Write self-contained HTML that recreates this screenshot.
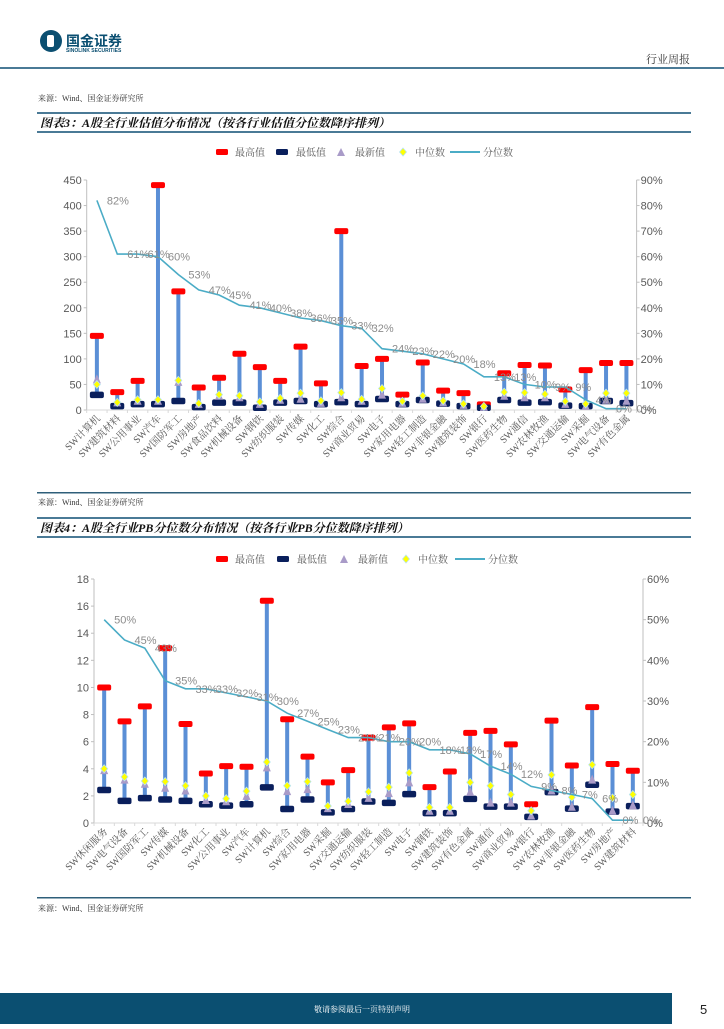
<!DOCTYPE html>
<html><head><meta charset="utf-8">
<style>
html,body{margin:0;padding:0;background:#fff;}
body{width:724px;height:1024px;overflow:hidden;font-family:"Liberation Sans","Noto Sans CJK SC",sans-serif;}
svg text{font-family:"Liberation Sans","Noto Sans CJK SC",sans-serif;}
.cj{font-family:"Liberation Serif","Noto Serif CJK SC",serif;}
</style></head>
<body>
<svg id="pg" width="724" height="1024" viewBox="0 0 724 1024" xmlns="http://www.w3.org/2000/svg">
  <g>
    <circle cx="51" cy="41" r="11" fill="#0b4f71"/>
    <rect x="47" y="35" width="7" height="12" rx="2" fill="#fff"/>
    <text x="66" y="46" font-size="14" font-weight="bold" fill="#0b4f71">国金证券</text>
    <text x="66" y="52" font-size="5" font-weight="bold" fill="#0b4f71">SINOLINK SECURITIES</text>
  </g>
  <text x="690" y="63" font-size="11" fill="#333" text-anchor="end" class="cj">行业周报</text>
  <rect x="0" y="67" width="724" height="2" fill="#4a7a96"/>
  <text x="38" y="101" font-size="8" fill="#333" class="cj">来源：Wind、国金证券研究所</text>
  <rect x="37" y="112" width="654" height="2" fill="#4a7a96"/>
  <rect x="37" y="131" width="654" height="2" fill="#4a7a96"/>
  <text x="40" y="127" font-size="12" font-weight="bold" font-style="italic" fill="#111" class="cj">图表3：A股全行业估值分布情况（按各行业估值分位数降序排列）</text>
  <g id="c1"></g>
  <rect x="37" y="492" width="654" height="1.5" fill="#2f5f7a"/>
  <text x="38" y="505" font-size="8" fill="#333" class="cj">来源：Wind、国金证券研究所</text>
  <rect x="37" y="517" width="654" height="2" fill="#4a7a96"/>
  <rect x="37" y="536" width="654" height="2" fill="#4a7a96"/>
  <text x="40" y="532" font-size="12" font-weight="bold" font-style="italic" fill="#111" class="cj">图表4：A股全行业PB分位数分布情况（按各行业PB分位数降序排列）</text>
  <g id="c2"></g>
  <rect x="37" y="897" width="654" height="1.5" fill="#2f5f7a"/>
  <text x="38" y="911" font-size="8" fill="#333" class="cj">来源：Wind、国金证券研究所</text>
  <rect x="0" y="993" width="724" height="31" fill="#0b4f71"/>
  <rect x="672" y="993" width="52" height="31" fill="#fff"/>
  <text x="362" y="1012" font-size="8" fill="#fff" text-anchor="middle" class="cj">敬请参阅最后一页特别声明</text>
  <text x="700" y="1014" font-size="13" fill="#222">5</text>
</svg>
<script>
// ---- Chart 3 data (PE) ----
const cats1 = ["计算机","建筑材料","公用事业","汽车","国防军工","房地产","食品饮料","机械设备","钢铁","纺织服装","传媒","化工","综合","商业贸易","电子","家用电器","轻工制造","非银金融","建筑装饰","银行","医药生物","通信","农林牧渔","交通运输","采掘","电气设备","有色金属"];
const max1 = [145,35,57,440,232,44,63,110,84,57,124,52,350,86,100,30,93,38,33,11,72,88,87,40,78,92,92];
const min1 = [30,8,12,12,18,6,15,15,5,15,18,12,16,12,22,12,20,13,8,5,20,15,16,9,8,18,14];
const last1 = [60,15,18,18,55,12,28,25,12,20,22,14,25,18,30,14,22,15,10,6,28,25,25,12,8,20,18];
const med1 = [50,15,20,20,58,13,30,28,16,23,33,18,34,21,42,17,28,18,12,7,35,34,31,17,12,33,33];
const pct1 = [82,61,61,60,53,47,45,41,40,38,36,35,33,32,24,23,22,20,18,13,13,10,9,9,4,0.5,0.5];
const pctLbl1 = ["82%","61%","61%","60%","53%","47%","45%","41%","40%","38%","36%","35%","33%","32%","24%","23%","22%","20%","18%","13%","13%","10%","9%","9%","4%","0%","0%"];
const leftTicks1 = ["0","50","100","150","200","250","300","350","400","450"];
const rightTicks1 = ["0%","10%","20%","30%","40%","50%","60%","70%","80%","90%"];

// ---- Chart 4 data (PB) ----
const cats2 = ["休闲服务","电气设备","国防军工","传媒","机械设备","化工","公用事业","汽车","计算机","综合","家用电器","采掘","交通运输","纺织服装","轻工制造","电子","钢铁","建筑装饰","有色金属","通信","商业贸易","银行","农林牧渔","非银金融","医药生物","房地产","建筑材料"];
const max2 = [10,7.5,8.6,12.9,7.3,3.65,4.2,4.15,16.4,7.65,4.9,3.0,3.9,6.3,7.05,7.35,2.65,3.8,6.65,6.8,5.8,1.38,7.55,4.24,8.55,4.35,3.85];
const min2 = [2.45,1.65,1.85,1.75,1.65,1.4,1.3,1.4,2.65,1.05,1.75,0.8,1.05,1.6,1.5,2.15,0.75,0.75,1.8,1.23,1.23,0.47,2.3,1.08,2.84,0.86,1.26];
const last2 = [3.9,3.2,2.9,2.6,2.4,1.7,1.6,2.0,4.1,2.35,2.5,1.1,1.4,1.85,2.2,3.0,0.9,0.9,2.3,1.5,1.5,0.55,2.4,1.2,3.2,0.9,1.3];
const med2 = [4.0,3.4,3.1,3.05,2.75,2.0,1.8,2.35,4.5,2.75,3.05,1.25,1.6,2.3,2.65,3.7,1.15,1.15,3.0,2.75,2.1,0.9,3.55,1.9,4.3,1.85,2.1];
const pct2 = [50,45,43,35,33,33,32,31,30,27,25,23,21,21,20,20,18,18,17,14,12,9,8,7,6,0.7,0.7];
const pctLbl2 = ["50%","45%","43%","35%","33%","33%","32%","31%","30%","27%","25%","23%","21%","21%","20%","20%","18%","18%","17%","14%","12%","9%","8%","7%","6%","0%","0%"];
const leftTicks2 = ["0","2","4","6","8","10","12","14","16","18"];
const rightTicks2 = ["0%","10%","20%","30%","40%","50%","60%"];

const NS = "http://www.w3.org/2000/svg";
function mk(parent, tag, attrs, txt){
  const e = document.createElementNS(NS, tag);
  for (const k in attrs) e.setAttribute(k, attrs[k]);
  if (txt !== undefined) e.textContent = txt;
  parent.appendChild(e);
  return e;
}

function legend(g, y, xs){
  const lg = mk(g, "g", {});
  
  
  mk(lg, "rect", {x:xs[0]-6, y:y-3, width:12, height:6, rx:1.5, fill:"#ff0000"});
  mk(lg, "text", {x:xs[0]+13, y:y+4, "font-size":10, fill:"#595959", class:"cj"}, "最高值");
  mk(lg, "rect", {x:xs[1]-6, y:y-3, width:12, height:6, rx:1.5, fill:"#0a1f5c"});
  mk(lg, "text", {x:xs[1]+14, y:y+4, "font-size":10, fill:"#595959", class:"cj"}, "最低值");
  mk(lg, "polygon", {points:`${xs[2]-4},${y+4} ${xs[2]+4},${y+4} ${xs[2]},${y-4}`, fill:"#a99bc8"});
  mk(lg, "text", {x:xs[2]+14, y:y+4, "font-size":10, fill:"#595959", class:"cj"}, "最新值");
  mk(lg, "polygon", {points:`${xs[3]},${y-4} ${xs[3]+3.5},${y} ${xs[3]},${y+4} ${xs[3]-3.5},${y}`, fill:"#ffff00", stroke:"#b7e4f0", "stroke-width":0.8});
  mk(lg, "text", {x:xs[3]+12, y:y+4, "font-size":10, fill:"#595959", class:"cj"}, "中位数");
  mk(lg, "line", {x1:xs[4], y1:y, x2:xs[4]+30, y2:y, stroke:"#4bacc6", "stroke-width":2});
  mk(lg, "text", {x:xs[4]+33, y:y+4, "font-size":10, fill:"#595959", class:"cj"}, "分位数");
}

function drawChart(gid, cfg, cats, maxs, mins, lasts, meds, pcts, pctLbls, lt, rt){
  const g = document.getElementById(gid);
  const n = cats.length;
  const bw = (cfg.x1 - cfg.x0) / n;
  const xs = i => cfg.x0 + bw * (i + 0.5);
  const yv = v => cfg.y0 - (v / cfg.vmax) * (cfg.y0 - cfg.yTop);
  const yp = p => cfg.y0 - (p / cfg.pmax) * (cfg.y0 - cfg.yTop);

  legend(g, cfg.legY, cfg.legX);

  const ax = mk(g, "line", {x1:cfg.x0, y1:cfg.yTop, x2:cfg.x0, y2:cfg.y0, stroke:"#bfbfbf", "stroke-width":1});
  
  
  const ax2 = mk(g, "line", {x1:cfg.x1, y1:cfg.yTop, x2:cfg.x1, y2:cfg.y0, stroke:"#bfbfbf", "stroke-width":1});
  
  
  const xa = mk(g, "line", {x1:cfg.x0, y1:cfg.y0, x2:cfg.x1, y2:cfg.y0, stroke:"#d9d9d9", "stroke-width":1});
  
  

  lt.forEach((t, i) => {
    const v = cfg.vmax * i / (lt.length - 1);
    const y = yv(v);
    mk(g, "line", {x1:cfg.x0-3, y1:y, x2:cfg.x0, y2:y, stroke:"#bfbfbf"});
    const tx = mk(g, "text", {x:cfg.x0-5, y:y+4, "font-size":11, fill:"#595959", "text-anchor":"end"}, t);
    
    
  });
  rt.forEach((t, i) => {
    const y = yp(cfg.pmax * i / (rt.length - 1));
    mk(g, "line", {x1:cfg.x1, y1:y, x2:cfg.x1+3, y2:y, stroke:"#bfbfbf"});
    const tx = mk(g, "text", {x:cfg.x1+4, y:y+4, "font-size":11, fill:"#595959"}, t);
    
    
  });

  for (let i = 0; i <= n; i++) {
    const x = cfg.x0 + bw * i;
    mk(g, "line", {x1:x, y1:cfg.y0, x2:x, y2:cfg.y0+3, stroke:"#d9d9d9"});
  }

  cats.forEach((c, i) => {
    const x = xs(i) + 4, y = cfg.y0 + 9;
    const t = mk(g, "text", {x:x, y:y, "font-size":10, fill:"#595959", "text-anchor":"end", class:"cj", transform:`rotate(-45 ${x} ${y})`}, "SW" + c);
    
    
  });

  cats.forEach((c, i) => {
    const x = xs(i);
    const bar = mk(g, "line", {x1:x, y1:yv(maxs[i]), x2:x, y2:yv(mins[i]), stroke:"#5b8fd6", "stroke-width":4});
    
    
    const mx = mk(g, "rect", {x:x-7, y:yv(maxs[i])-3, width:14, height:6, rx:2, fill:"#ff0000"});
    
    
    const mn = mk(g, "rect", {x:x-7, y:yv(mins[i])-3, width:14, height:6.5, rx:2, fill:"#0a1f5c"});
    
    
    const ly = yv(lasts[i]);
    const tr = mk(g, "polygon", {points:`${x-4},${ly+4} ${x+4},${ly+4} ${x},${ly-5}`, fill:"#a99bc8"});
    
    
    const my = yv(meds[i]);
    const dm = mk(g, "polygon", {points:`${x},${my-4} ${x+3.5},${my} ${x},${my+4} ${x-3.5},${my}`, fill:"#ffff00", stroke:"#b7e4f0", "stroke-width":0.8});
    
    
  });

  const pts = pcts.map((p, i) => `${xs(i).toFixed(1)},${yp(p).toFixed(1)}`).join(" ");
  const pl = mk(g, "polyline", {points:pts, fill:"none", stroke:"#4bacc6", "stroke-width":1.6});
  
  
  pcts.forEach((p, i) => {
    const t = mk(g, "text", {x:xs(i)+10, y:yp(p)+4, "font-size":11, fill:"#8c8c8c"}, pctLbls[i]);
    
    
  });
}

drawChart("c1", {x0:86.7, x1:636.6, y0:410, yTop:180, vmax:450, pmax:90, legY:152, legX:[222,282,341,403,450]},
  cats1, max1, min1, last1, med1, pct1, pctLbl1, leftTicks1, rightTicks1);
drawChart("c2", {x0:94, x1:643, y0:823, yTop:579, vmax:18, pmax:60, legY:559, legX:[222,283,344,406,455]},
  cats2, max2, min2, last2, med2, pct2, pctLbl2, leftTicks2, rightTicks2);
</script>
</body></html>
